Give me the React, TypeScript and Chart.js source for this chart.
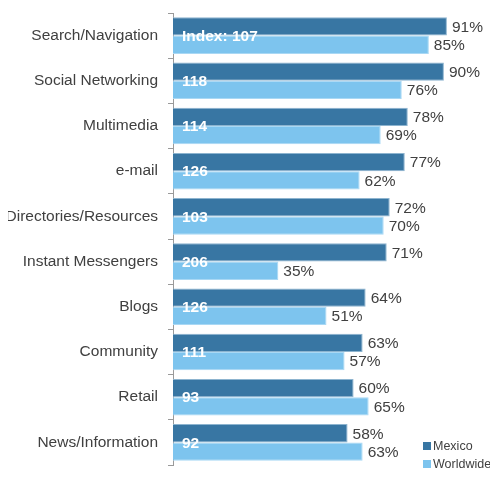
import { useEffect, useRef } from "react";
import { Chart, registerables } from "chart.js";

Chart.register(...registerables);

const FONT = '"Liberation Sans", Arial, sans-serif';

const categories = [
  "Search/Navigation",
  "Social Networking",
  "Multimedia",
  "e-mail",
  "Directories/Resources",
  "Instant Messengers",
  "Blogs",
  "Community",
  "Retail",
  "News/Information",
];
const mexico = [91, 90, 78, 77, 72, 71, 64, 63, 60, 58];
const worldwide = [85, 76, 69, 62, 70, 35, 51, 57, 65, 63];
const indexValues = [107, 118, 114, 126, 103, 206, 126, 111, 93, 92];
const seriesNames = ["Mexico", "Worldwide"];
const seriesColors = ["#3876A3", "#7DC4EE"];
const seriesBorders = ["#8db4cf", "#a9d8f4"];

const labelPlugin = {
  id: "customLabels",
  afterDatasetsDraw(chart: any) {
    const ctx = chart.ctx;
    ctx.save();
    ctx.textBaseline = "middle";
    ctx.textAlign = "left";
    ctx.font = `15.5px ${FONT}`;
    ctx.fillStyle = "#404040";
    chart.data.datasets.forEach((ds: any, di: number) => {
      const meta = chart.getDatasetMeta(di);
      meta.data.forEach((bar: any, i: number) => {
        ctx.fillText(`${ds.data[i]}%`, bar.x + 5, bar.y + 1);
      });
    });
    ctx.font = `bold 15.5px ${FONT}`;
    ctx.fillStyle = "#ffffff";
    const yScale = chart.scales.y;
    indexValues.forEach((v, i) => {
      const t = i === 0 ? `Index: ${v}` : `${v}`;
      ctx.fillText(t, chart.chartArea.left + 9, yScale.getPixelForValue(i) + 1);
    });
    // legend
    ctx.font = `12.5px ${FONT}`;
    const lx = 423;
    const ly = [446, 464];
    seriesNames.forEach((name, i) => {
      ctx.fillStyle = seriesColors[i];
      ctx.fillRect(lx, ly[i] - 4, 8, 8);
      ctx.fillStyle = "#404040";
      ctx.fillText(name, lx + 10, ly[i] + 1);
    });
    ctx.restore();
  },
};

export default function App() {
  const ref = useRef<HTMLCanvasElement | null>(null);
  useEffect(() => {
    if (!ref.current) return;
    const chart = new Chart(ref.current, {
      type: "bar",
      data: {
        labels: categories,
        datasets: [
          {
            label: seriesNames[0],
            data: mexico,
            backgroundColor: seriesColors[0],
            borderColor: seriesBorders[0],
            borderWidth: 1,
            categoryPercentage: 0.81,
            barPercentage: 1,
          },
          {
            label: seriesNames[1],
            data: worldwide,
            backgroundColor: seriesColors[1],
            borderColor: seriesBorders[1],
            borderWidth: 1,
            categoryPercentage: 0.81,
            barPercentage: 1,
          },
        ],
      },
      options: {
        indexAxis: "y",
        animation: false,
        responsive: true,
        maintainAspectRatio: false,
        layout: { padding: { top: 13, bottom: 15, right: 24, left: 0 } },
        plugins: {
          legend: { display: false },
          tooltip: { enabled: false },
        },
        scales: {
          x: { display: false, min: 0, max: 100 },
          y: {
            afterFit: (scale: any) => {
              scale.width = 173;
              scale.paddingTop = 0;
              scale.paddingBottom = 0;
            },
            grid: {
              drawOnChartArea: false,
              drawTicks: true,
              tickLength: 5,
              color: "#9a9a9a",
              offset: true,
            },
            border: { display: true, color: "#9a9a9a" },
            ticks: {
              padding: 10,
              color: "#404040",
              font: { family: FONT, size: 15.5 },
            },
          },
        },
      },
      plugins: [labelPlugin],
    });
    return () => chart.destroy();
  }, []);
  return (
    <div style={{ position: "relative", width: 498, height: 480, margin: "-8px 0 0 -8px" }}>
      <canvas ref={ref} />
    </div>
  );
}
